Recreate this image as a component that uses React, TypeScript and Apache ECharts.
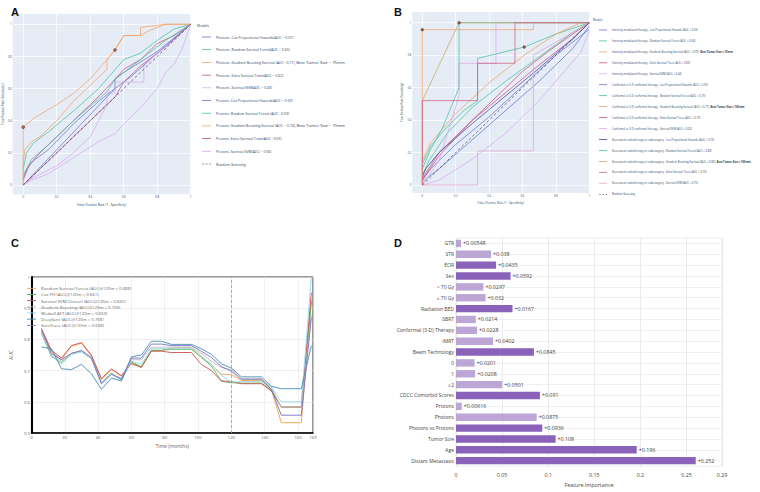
import React, { useEffect, useRef } from "react";
import * as echarts from "echarts";

const FONT = "'Open Sans', 'Noto Sans', 'DejaVu Sans', sans-serif";
const AXIS_TXT = "#2a3f5f";
const ROC_TICKS = [0, 0.2, 0.4, 0.6, 0.8, 1];
const COLORS = ["#6673d9", "#45c29c", "#f2a164", "#c94d7c", "#dba8f0"];
const DASH_ICON = "path://M0,0h3v1h-3zM5,0h3v1h-3zM10,0h3v1h-3z";

// ---------- Panel A ----------
const A_LABELS = [
  "Photons -Cox Proportional Hazards(AUC = 0.57)",
  "Photons -Random Survival Forest(AUC = 0.65)",
  "Photons -Gradient Boosting Survival (AUC =0.71), Best Tumor Size = 75mm",
  "Photons -Extra Survival Trees(AUC = 0.62)",
  "Photons -Survival SVM(AUC = 0.43)",
  "Protons -Cox Proportional Hazards(AUC = 0.50)",
  "Protons -Random Survival Forest (AUC =0.59)",
  "Protons -Gradient Boosting Survival (AUC = 0.74), Best Tumor Size = 70mm",
  "Protons -Extra Survival Trees(AUC =0.55)",
  "Protons -Survival SVM(AUC = 0.56)",
];
const A_PH_COX = [[0, 0.03], [0.02, 0.1], [0.06, 0.15], [0.15, 0.22], [0.3, 0.38], [0.45, 0.52], [0.548, 0.6], [0.548, 0.66], [0.6, 0.7], [0.8, 0.83], [1, 1]];
const A_PH_RSF = [[0, 0.1], [0.02, 0.2], [0.06, 0.26], [0.15, 0.33], [0.3, 0.46], [0.45, 0.6], [0.55, 0.72], [0.6, 0.78], [0.7, 0.82], [0.8, 0.9], [0.9, 0.97], [1, 1]];
const A_PH_GBS = [[0, 0], [0, 0.36], [0.07, 0.42], [0.2, 0.5], [0.3, 0.57], [0.4, 0.66], [0.5, 0.78], [0.548, 0.84], [0.6, 0.93], [0.7, 0.93], [0.75, 0.96], [0.85, 1], [1, 1]];
const A_PH_EST = [[0, 0.04], [0.04, 0.13], [0.1, 0.2], [0.2, 0.3], [0.3, 0.4], [0.45, 0.55], [0.55, 0.66], [0.6, 0.72], [0.7, 0.78], [0.8, 0.88], [0.9, 0.93], [1, 1]];
const A_PH_SVM = [[0, 0], [0.05, 0.03], [0.15, 0.07], [0.3, 0.17], [0.45, 0.27], [0.55, 0.32], [0.6, 0.38], [0.7, 0.48], [0.8, 0.6], [0.85, 0.7], [0.9, 0.75], [0.95, 0.85], [1, 1]];
const A_PR_COX = [[0, 0], [0.548, 0.6], [0.65, 0.68], [0.8, 0.82], [1, 1]];
const A_PR_RSF = [[0, 0.06], [0.05, 0.16], [0.15, 0.25], [0.3, 0.4], [0.5, 0.58], [0.55, 0.66], [0.7, 0.78], [0.85, 0.9], [1, 1]];
const A_PR_GBS = [[0, 0], [0, 0.14], [0.01, 0.22], [0.05, 0.27], [0.1, 0.3], [0.2, 0.4], [0.3, 0.52], [0.4, 0.62], [0.5, 0.72], [0.5, 0.78], [0.548, 0.84], [0.6, 0.93], [0.7, 0.93], [0.7, 0.98], [0.85, 1], [1, 1]];
const A_PR_EST = [[0, 0], [0.1, 0.1], [0.3, 0.3], [0.5, 0.5], [0.55, 0.55], [0.6, 0.64], [0.7, 0.74], [0.85, 0.86], [1, 1]];
const A_PR_SVM = [[0, 0], [0.05, 0.04], [0.2, 0.12], [0.3, 0.2], [0.4, 0.3], [0.5, 0.5], [0.5, 0.58], [0.55, 0.58], [0.55, 0.64], [0.72, 0.64], [0.72, 0.74], [0.8, 0.82], [0.9, 0.9], [1, 1]];
const A_CURVES = [A_PH_COX, A_PH_RSF, A_PH_GBS, A_PH_EST, A_PH_SVM, A_PR_COX, A_PR_RSF, A_PR_GBS, A_PR_EST, A_PR_SVM];
const A_MARKERS = [[0, 0.36], [0.548, 0.84]];
const DIAGONAL = [[0, 0], [1, 1]];

// ---------- Panel B ----------
const B_LABELS = [
  "Intensity modulated therapy - Cox Proportional Hazards (AUC = 0.56)",
  "Intensity modulated therapy - Random Survival Forest (AUC = 0.64)",
  "Intensity modulated therapy - Gradient Boosting Survival (AUC = 0.97), Best Tumor Size = 15mm",
  "Intensity modulated therapy - Extra Survival Trees (AUC = 0.63)",
  "Intensity modulated therapy - Survival SVM (AUC = 0.44)",
  "Conformal or 3-D conformal therapy - Cox Proportional Hazards (AUC = 0.55)",
  "Conformal or 3-D conformal therapy - Random Survival Forest (AUC = 0.73)",
  "Conformal or 3-D conformal therapy - Gradient Boosting Survival (AUC = 0.77), Best Tumor Size = 145mm",
  "Conformal or 3-D conformal therapy - Extra Survival Trees (AUC = 0.73)",
  "Conformal or 3-D conformal therapy - Survival SVM (AUC = 0.63)",
  "Stereotactic radiotherapy or radiosurgery - Cox Proportional Hazards (AUC = 0.75)",
  "Stereotactic radiotherapy or radiosurgery - Random Survival Forest (AUC = 0.80)",
  "Stereotactic radiotherapy or radiosurgery - Gradient Boosting Survival (AUC = 0.96), Best Tumor Size = 100mm",
  "Stereotactic radiotherapy or radiosurgery - Extra Survival Trees (AUC = 0.70)",
  "Stereotactic radiotherapy or radiosurgery - Survival SVM (AUC = 0.75)",
];
const B_IM_COX = [[0, 0.03], [0.05, 0.1], [0.2, 0.25], [0.4, 0.42], [0.6, 0.61], [0.8, 0.8], [1, 0.96]];
const B_IM_RSF = [[0, 0.06], [0.04, 0.15], [0.15, 0.32], [0.3, 0.48], [0.5, 0.64], [0.7, 0.79], [0.9, 0.94], [1, 1]];
const B_IM_GBS = [[0, 0], [0, 0.957], [0.665, 0.957], [0.665, 1], [1, 1]];
const B_IM_EST = [[0, 0.04], [0.1, 0.2], [0.3, 0.4], [0.5, 0.57], [0.7, 0.74], [0.9, 0.9], [1, 1]];
const B_IM_SVM = [[0, 0], [0.1, 0.03], [0.3, 0.16], [0.5, 0.32], [0.7, 0.52], [0.85, 0.7], [0.95, 0.82], [1, 0.95]];
const B_CF_COX = [[0, 0.02], [0.1, 0.1], [0.3, 0.28], [0.5, 0.46], [0.7, 0.64], [0.9, 0.84], [1, 0.98]];
const B_CF_RSF = [[0, 0.13], [0.05, 0.24], [0.15, 0.36], [0.25, 0.46], [0.331, 0.52], [0.331, 0.78], [0.61, 0.85], [0.8, 0.93], [1, 1]];
const B_CF_GBS = [[0, 0.15], [0.05, 0.26], [0.2, 0.44], [0.4, 0.63], [0.61, 0.8], [0.8, 0.93], [0.95, 1], [1, 1]];
const B_CF_EST = [[0, 0.03], [0.1, 0.18], [0.3, 0.4], [0.45, 0.55], [0.6, 0.7], [0.75, 0.82], [0.9, 0.93], [1, 1]];
const B_CF_SVM = [[0, 0], [0.1, 0.15], [0.22, 0.55], [0.22, 0.75], [0.441, 0.75], [0.441, 1], [1, 1]];
const B_ST_COX = [[0, 0.05], [0.02, 0.1], [0.1, 0.2], [0.3, 0.38], [0.5, 0.55], [0.7, 0.72], [0.9, 0.9], [1, 1]];
const B_ST_RSF = [[0, 0.1], [0.05, 0.22], [0.12, 0.35], [0.22, 0.6], [0.22, 1], [1, 1]];
const B_ST_GBS = [[0, 0], [0, 0.52], [0.22, 1], [1, 1]];
const B_ST_EST = [[0, 0], [0, 0.52], [0.331, 0.52], [0.331, 0.75], [0.555, 0.75], [0.555, 1], [1, 1]];
const B_ST_SVM = [[0, 0], [0.331, 0], [0.331, 0.21], [0.665, 0.21], [0.665, 0.8], [1, 1]];
const B_CURVES = [B_IM_COX, B_IM_RSF, B_IM_GBS, B_IM_EST, B_IM_SVM, B_CF_COX, B_CF_RSF, B_CF_GBS, B_CF_EST, B_CF_SVM, B_ST_COX, B_ST_RSF, B_ST_GBS, B_ST_EST, B_ST_SVM];
const B_COLORS = [...COLORS, ...COLORS, "#3a45a8", "#45c29c", "#c9a868", "#d0607f", "#e8a3c8"];
const B_MARKERS = [[0, 0.957], [0.22, 1], [0.61, 0.85]];

// ---------- Panel C ----------
const C_TIMES = [6, 12, 18, 24, 30, 36, 42, 48, 54, 60, 66, 72, 78, 84, 90, 96, 102, 108, 114, 120, 126, 132, 138, 144, 150, 156, 162, 168];
const C_NAMES = [
  "Random Survival Forest (AUC@120m = 0.688)",
  "Cox PH (AUC@120m = 0.661)",
  "Survival SVM (Linear) (AUC@120m = 0.665)",
  "Gradient Boosting (AUC@120m = 0.703)",
  "Weibull AFT (AUC@120m = 0.663)",
  "DeepSurv (AUC@120m = 0.708)",
  "SurvTrace (AUC@120m = 0.698)",
];
const C_RSF = [0.83, 0.76, 0.735, 0.778, 0.788, 0.746, 0.67, 0.704, 0.682, 0.725, 0.712, 0.765, 0.765, 0.773, 0.773, 0.773, 0.745, 0.72, 0.688, 0.688, 0.668, 0.668, 0.668, 0.64, 0.533, 0.533, 0.533, 0.93];
const C_COX = [0.82, 0.745, 0.725, 0.755, 0.762, 0.738, 0.66, 0.692, 0.67, 0.728, 0.712, 0.765, 0.765, 0.768, 0.768, 0.768, 0.742, 0.715, 0.666, 0.661, 0.66, 0.66, 0.66, 0.638, 0.583, 0.583, 0.583, 0.92];
const C_SVM = [0.835, 0.765, 0.74, 0.78, 0.79, 0.75, 0.675, 0.705, 0.684, 0.722, 0.71, 0.762, 0.762, 0.758, 0.758, 0.758, 0.72, 0.7, 0.667, 0.665, 0.658, 0.658, 0.658, 0.635, 0.583, 0.583, 0.583, 0.95];
const C_GB = [0.82, 0.75, 0.73, 0.755, 0.76, 0.74, 0.66, 0.69, 0.675, 0.735, 0.735, 0.775, 0.775, 0.775, 0.775, 0.775, 0.755, 0.73, 0.71, 0.703, 0.675, 0.675, 0.675, 0.645, 0.583, 0.583, 0.583, 0.88];
const C_WEIBULL = [0.825, 0.748, 0.722, 0.752, 0.76, 0.738, 0.662, 0.69, 0.67, 0.73, 0.72, 0.77, 0.77, 0.77, 0.77, 0.77, 0.745, 0.72, 0.685, 0.663, 0.665, 0.665, 0.665, 0.648, 0.6, 0.6, 0.6, 1.0];
const C_DEEPSURV = [0.776, 0.77, 0.706, 0.703, 0.72, 0.69, 0.64, 0.676, 0.667, 0.744, 0.75, 0.794, 0.794, 0.784, 0.784, 0.784, 0.77, 0.752, 0.722, 0.708, 0.68, 0.68, 0.68, 0.65, 0.642, 0.642, 0.642, 0.78];
const C_SURVTRACE = [0.83, 0.755, 0.735, 0.755, 0.765, 0.742, 0.658, 0.688, 0.673, 0.74, 0.74, 0.785, 0.785, 0.78, 0.78, 0.78, 0.762, 0.742, 0.713, 0.698, 0.672, 0.672, 0.672, 0.64, 0.557, 0.557, 0.557, 0.87];
const C_SERIES = [C_RSF, C_COX, C_SVM, C_GB, C_WEIBULL, C_DEEPSURV, C_SURVTRACE];
const C_COLORS = ["#f0a04b", "#56b356", "#cc5050", "#bdbdbd", "#92dbe8", "#4a8cb5", "#7770c4"];
const C_CUTOFF = 120;

// ---------- Panel D ----------
const D_FEATURES = ["GTR", "STR", "EOR", "Sex", "> 70 Gy", "≤ 70 Gy", "Radiation BED", "SBRT", "Conformal (3-D) Therapy", "IMRT", "Beam Technology", "0", "1", "≥2", "CDCC Comorbid Scores", "Protons", "Photons", "Photons vs Protons", "Tumor Size", "Age", "Distant Metastasis"];
const D_VALUES = [0.00548, 0.038, 0.0435, 0.0592, 0.0297, 0.032, 0.0613, 0.0214, 0.0228, 0.0402, 0.0845, 0.0201, 0.0208, 0.0501, 0.091, 0.00616, 0.0875, 0.0936, 0.108, 0.196, 0.26];
const D_TEXT = ["+0.00548", "+0.038", "+0.0435", "+0.0592", "+0.0297", "+0.032", "+0.0167", "+0.0214", "+0.0228", "+0.0402", "+0.0845", "+0.0201", "+0.0208", "+0.0501", "+0.091", "+0.00616", "+0.0875", "+0.0936", "+0.108", "+0.196", "+0.252"];
const D_LEVEL = ["sub", "sub", "main", "main", "sub", "sub", "main", "sub", "sub", "sub", "main", "sub", "sub", "sub", "main", "sub", "sub", "main", "main", "main", "main"];
const D_TICKS_LABEL = (v: number) => (v === 0 ? "0" : String(+v.toFixed(2)));

// ---------- helpers ----------
const richName = (n: string) => {
  const i = n.indexOf(", Best");
  return i < 0 ? n : n.slice(0, i + 2) + "{b|" + n.slice(i + 2) + "}";
};

const legendItems = (names: string[], dashed?: string) =>
  names.map((n) => (n === dashed ? { name: n, icon: DASH_ICON } : { name: n, icon: "rect" }));

function rocAxis(min: number, max: number, name: string, fs: number, nameGap: number, margin: number) {
  return {
    type: "value",
    min,
    max,
    name,
    nameLocation: "middle",
    nameGap,
    nameTextStyle: { fontSize: fs, color: AXIS_TXT, fontFamily: FONT },
    axisLine: { show: false },
    axisTick: { show: false, customValues: ROC_TICKS },
    axisLabel: { customValues: ROC_TICKS, fontSize: fs * 0.9, color: AXIS_TXT, margin, fontFamily: FONT, formatter: (v: number) => String(v) },
    splitLine: { show: true, lineStyle: { color: "#ffffff", width: 0.7 } },
  };
}

const rocLine = (name: string, data: number[][], color: string) => ({
  type: "line",
  name,
  data,
  symbol: "none",
  silent: true,
  lineStyle: { color, width: 0.75 },
  itemStyle: { color },
});

const letter = (t: string, left: number, top: number) => ({
  text: t,
  left,
  top,
  textStyle: { fontSize: 11, fontWeight: "bold", color: "#111", fontFamily: "'Liberation Sans', Arial, sans-serif" },
});

// ---------- options ----------
const optionA = {
  animation: false,
  title: letter("A", 6, 1),
  grid: { left: 12.7, top: 14, width: 178, height: 180.3, show: true, backgroundColor: "#e5ecf6", borderWidth: 0 },
  xAxis: rocAxis(-0.063, 1, "False Positive Rate (1 - Specificity)", 3.2, 4.1, 0.9),
  yAxis: rocAxis(-0.058, 1.064, "True Positive Rate (Sensitivity)", 3, 3.9, 1),
  legend: {
    orient: "vertical",
    left: 197,
    top: 25.65,
    itemWidth: 9,
    itemHeight: 0.8,
    itemGap: 0,
    selectedMode: false,
    formatter: richName,
    textStyle: {
      fontSize: 3.5, lineHeight: 12.7, color: AXIS_TXT, fontFamily: FONT,
      rich: { b: { fontSize: 4.2, lineHeight: 12.7, color: AXIS_TXT, fontFamily: FONT } },
    },
    data: legendItems([...A_LABELS, "Random Guessing"], "Random Guessing"),
  },
  graphic: [{ type: "text", left: 197, top: 23.5, style: { text: "Models", fontSize: 3.5, fill: AXIS_TXT, fontFamily: FONT } }],
  series: [
    ...A_CURVES.map((d, i) => rocLine(A_LABELS[i], d, COLORS[i % 5])),
    { ...rocLine("Random Guessing", DIAGONAL, "#3d3d4d"), lineStyle: { color: "#3d3d4d", width: 0.7, type: [2.5, 2.5] } },
    { type: "scatter", data: A_MARKERS, symbolSize: 3, silent: true, z: 5, itemStyle: { color: "#c0392b", borderColor: "#333", borderWidth: 0.5 } },
  ],
};

const optionB = {
  animation: false,
  title: letter("B", 9, 1),
  grid: { left: 32.3, top: 12, width: 177, height: 181, show: true, backgroundColor: "#e5ecf6", borderWidth: 0 },
  xAxis: rocAxis(-0.06, 1, "False Positive Rate (1 - Specificity)", 3, 4.5, 1),
  yAxis: rocAxis(-0.049, 1.066, "True Positive Rate (Sensitivity)", 2.8, 1.5, 1),
  legend: {
    orient: "vertical",
    left: 214,
    top: 19.5,
    itemWidth: 8,
    itemHeight: 0.8,
    itemGap: 0,
    selectedMode: false,
    formatter: richName,
    textStyle: {
      fontSize: 2.7, lineHeight: 10.95, color: AXIS_TXT, fontFamily: FONT,
      rich: { b: { fontSize: 2.7, fontWeight: "bold", lineHeight: 10.95, color: AXIS_TXT, fontFamily: FONT } },
    },
    data: legendItems([...B_LABELS, "Random Guessing"], "Random Guessing"),
  },
  graphic: [{ type: "text", left: 213, top: 18.3, style: { text: "Models", fontSize: 2.8, fill: AXIS_TXT, fontFamily: FONT } }],
  series: [
    ...B_CURVES.map((d, i) => rocLine(B_LABELS[i], d, B_COLORS[i])),
    { ...rocLine("Random Guessing", DIAGONAL, "#3d3d4d"), lineStyle: { color: "#3d3d4d", width: 0.7, type: [2.5, 2.5] } },
    { type: "scatter", data: B_MARKERS, symbolSize: 2.8, silent: true, z: 5, itemStyle: { color: "#a03030", borderColor: "#333", borderWidth: 0.5 } },
  ],
};

const optionC = {
  animation: false,
  title: letter("C", 6, 2),
  grid: { left: 21, top: 47, width: 292, height: 156, show: true, backgroundColor: "#ffffff", borderColor: "#333", borderWidth: 1 },
  xAxis: {
    type: "value", min: 0, max: 169, interval: 20,
    name: "Time (months)", nameLocation: "middle", nameGap: 8.5,
    nameTextStyle: { fontSize: 5, color: "#666", fontFamily: FONT },
    axisLine: { show: true, lineStyle: { color: "#000", width: 1.5 } },
    axisTick: { show: false },
    axisLabel: { fontSize: 4.3, color: "#666", margin: 1.5, fontFamily: FONT },
    splitLine: { show: true, lineStyle: { color: "#e6e6e6", width: 0.6 } },
  },
  yAxis: {
    type: "value", min: 0.5, max: 1, interval: 0.1,
    name: "AUC", nameLocation: "middle", nameGap: 12,
    nameTextStyle: { fontSize: 5, color: "#666", fontFamily: FONT },
    axisLine: { show: true, lineStyle: { color: "#000", width: 2 } },
    axisTick: { show: false },
    axisLabel: { fontSize: 4.3, color: "#666", margin: 1.5, fontFamily: FONT, formatter: (v: number) => (v >= 0.999 ? "1" : v.toFixed(1)) },
    splitLine: { show: true, lineStyle: { color: "#e6e6e6", width: 0.6 } },
  },
  legend: {
    orient: "vertical",
    left: 22,
    top: 50.2,
    itemWidth: 9,
    itemHeight: 0.9,
    itemGap: 0,
    selectedMode: false,
    textStyle: { fontSize: 4.3, lineHeight: 6.17, color: "#666", fontFamily: FONT },
    data: legendItems(C_NAMES),
  },
  series: C_SERIES.map((vals, i) => ({
    type: "line",
    name: C_NAMES[i],
    data: C_TIMES.map((t, j) => [t, vals[j]]),
    symbol: "none",
    silent: true,
    lineStyle: { color: C_COLORS[i], width: 0.9 },
    itemStyle: { color: C_COLORS[i] },
    ...(i === 0
      ? {
          markLine: {
            silent: true,
            symbol: ["none", "none"],
            label: { show: false },
            lineStyle: { color: "#999", width: 0.8, type: [3, 2] },
            data: [{ xAxis: C_CUTOFF }],
          },
        }
      : {}),
  })),
};

const optionD = {
  animation: false,
  title: letter("D", 9, 2),
  grid: { left: 76, top: 8, width: 266, height: 231, show: true, backgroundColor: "#ffffff", borderColor: "#e6e6e6", borderWidth: 0.8 },
  xAxis: {
    type: "value", min: 0, max: 0.2885, interval: 0.05,
    name: "Feature Importance", nameLocation: "middle", nameGap: 14.5,
    nameTextStyle: { fontSize: 5.3, color: "#444", fontFamily: FONT },
    axisLine: { show: false },
    axisTick: { show: false },
    axisLabel: { fontSize: 5.3, color: "#444", margin: 6, fontFamily: FONT, formatter: D_TICKS_LABEL },
    splitLine: { show: true, lineStyle: { color: "#e6e6e6", width: 0.8 } },
  },
  yAxis: {
    type: "category", data: D_FEATURES, inverse: true,
    axisLine: { show: false },
    axisTick: { show: false },
    axisLabel: { fontSize: 5, color: "#444", margin: 2, fontFamily: FONT },
    splitLine: { show: false },
  },
  series: [
    {
      type: "bar",
      barWidth: "68%",
      silent: true,
      z: 3,
      data: D_VALUES.map((v, i) => ({ value: v, itemStyle: { color: D_LEVEL[i] === "main" ? "#8a62b9" : "#bba6d6" } })),
      label: {
        show: true, position: "right", distance: 2, fontSize: 5.3, color: "#444", fontFamily: FONT,
        formatter: (p: any) => D_TEXT[p.dataIndex],
      },
      markLine: {
        silent: true,
        z: 1,
        symbol: ["none", "none"],
        label: { show: false },
        lineStyle: { color: "#ececec", width: 0.8, type: "solid" },
        data: D_FEATURES.map((f) => ({ yAxis: f })),
      },
    },
  ],
};

function Panel({ option, left, top, width, height }: { option: any; left: number; top: number; width: number; height: number }) {
  const ref = useRef<HTMLDivElement>(null);
  useEffect(() => {
    const chart = echarts.init(ref.current as HTMLDivElement, null, { renderer: "svg" });
    chart.setOption(option);
    return () => chart.dispose();
  }, [option]);
  return <div ref={ref} style={{ position: "absolute", left, top, width, height }} />;
}

export default function App() {
  return (
    <div style={{ position: "fixed", left: 0, top: 0, width: 760, height: 492, background: "#ffffff", overflow: "hidden" }}>
      <Panel option={optionA} left={0} top={0} width={380} height={230} />
      <Panel option={optionB} left={380} top={0} width={380} height={230} />
      <Panel option={optionC} left={0} top={230} width={380} height={262} />
      <Panel option={optionD} left={380} top={230} width={380} height={262} />
    </div>
  );
}
